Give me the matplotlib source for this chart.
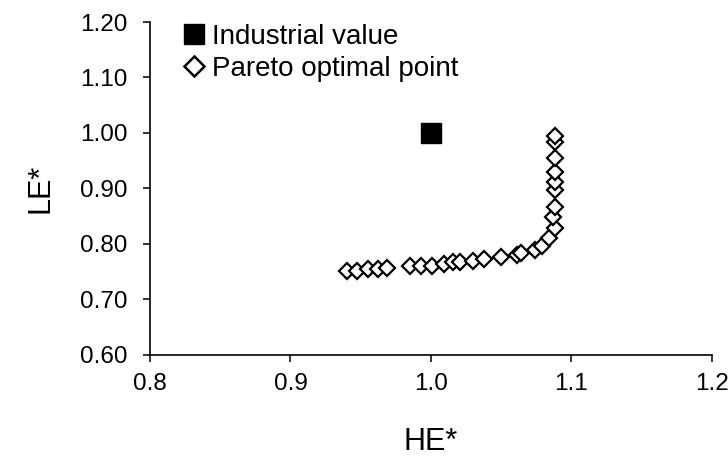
import matplotlib
matplotlib.use('Agg')
import matplotlib.pyplot as plt

plt.rcParams['font.family'] = ['Liberation Sans', 'DejaVu Sans']

# industrial operating point
ind_he = [1.0]
ind_le = [1.0]

# pareto front
par_he = [0.940, 0.947, 0.955, 0.962, 0.969, 0.985, 0.993, 1.001, 1.009, 1.016,
          1.021, 1.030, 1.038, 1.050, 1.061, 1.064, 1.074, 1.079, 1.084,
          1.088, 1.087, 1.088, 1.088, 1.088, 1.088, 1.088, 1.088, 1.088]
par_le = [0.752, 0.752, 0.754, 0.754, 0.756, 0.760, 0.760, 0.761, 0.763, 0.767,
          0.767, 0.770, 0.773, 0.777, 0.780, 0.784, 0.789, 0.796, 0.811,
          0.829, 0.849, 0.867, 0.897, 0.912, 0.930, 0.955, 0.984, 0.994]

xticks = [0.8, 0.9, 1.0, 1.1, 1.2]
yticks = [0.60, 0.70, 0.80, 0.90, 1.00, 1.10, 1.20]

fig = plt.figure(figsize=(7.28, 4.59), dpi=100)
ax = fig.add_axes([0.206, 0.227, 0.772, 0.725])

ax.plot(ind_he, ind_le, 's', color='black', markersize=15, linestyle='none',
        label='Industrial value')
ax.plot(par_he, par_le, 'D', markerfacecolor='white', markeredgecolor='black',
        markeredgewidth=1.6, markersize=8, linestyle='none',
        label='Pareto optimal point')

ax.set_xlim(0.8, 1.2)
ax.set_ylim(0.6, 1.2)
ax.set_xticks(xticks)
ax.set_xticklabels(['%.1f' % v for v in xticks])
ax.set_yticks(yticks)
ax.set_yticklabels(['%.2f' % v for v in yticks])
ax.spines['top'].set_visible(False)
ax.spines['right'].set_visible(False)
for s in ['left', 'bottom']:
    ax.spines[s].set_linewidth(1.2)
ax.tick_params(axis='both', direction='out', length=5, width=1.1, labelsize=17.5)
ax.tick_params(axis='y', pad=11)
ax.tick_params(axis='x', pad=8)

ax.set_xlabel('HE*', fontsize=22, labelpad=23)
ax.set_ylabel('LE*', fontsize=22, labelpad=18)

leg = ax.legend(loc='upper left', bbox_to_anchor=(0.2514, 0.948), bbox_transform=fig.transFigure,
                frameon=False, fontsize=20, handlelength=0.8, handletextpad=0.25,
                labelspacing=0.21, borderpad=0, borderaxespad=0)
hs = leg.legend_handles
hs[0].set_markersize(14.4)
hs[1].set_markersize(10)
hs[1].set_markeredgewidth(1.8)

fig.savefig('out.png', dpi=100)
